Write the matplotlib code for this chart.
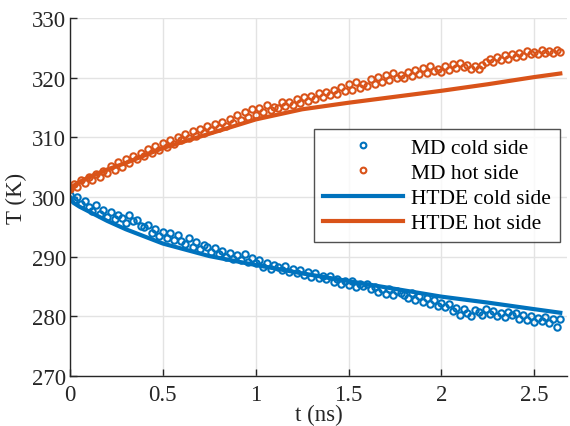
import numpy as np
import matplotlib
matplotlib.use("Agg")
import matplotlib.pyplot as plt

plt.rcParams['font.family'] = ['Liberation Serif', 'DejaVu Serif']
plt.rcParams['mathtext.fontset'] = 'stix'

# MD sample times (ns)
t_md = np.round(np.arange(0, 2.641, 0.02), 3)

md_cold = [
    300.3, 299.5, 300.0, 298.8, 299.4, 298.3, 297.7, 298.6, 297.2, 297.9,
    296.7, 297.5, 296.3, 297.0, 296.5, 295.6, 296.9, 295.9, 296.2, 295.1,
    294.9, 295.3, 293.9, 294.6, 293.5, 294.2, 293.2, 294.0, 292.8, 293.6,
    292.7, 292.2, 293.1, 291.6, 292.4, 291.3, 292.0, 291.7, 290.7, 291.4,
    290.4, 291.0, 289.9, 290.6, 289.6, 290.2, 289.5, 290.4, 289.1, 289.7,
    288.9, 289.4, 288.3, 288.9, 287.9, 288.6, 288.2, 287.7, 288.5, 287.5,
    288.0, 287.2, 287.7, 286.9, 287.5, 286.6, 287.3, 286.4, 286.8, 286.2,
    286.7, 285.8, 286.3, 285.5, 285.9, 285.3, 286.0, 284.9, 285.5, 285.0,
    285.4, 284.5, 284.9, 284.1, 284.6, 283.8, 284.5, 283.5, 284.2, 283.9,
    283.6, 283.1, 283.9, 282.7, 283.4, 282.4, 283.1, 282.0, 282.8, 281.8,
    282.3, 281.5, 282.0, 280.9, 281.4, 280.3, 281.2, 280.6, 280.0, 281.0,
    280.7, 280.2, 281.2, 280.4, 280.9, 280.0, 280.6, 279.9, 280.8, 280.2,
    280.5, 279.6, 280.2, 279.4, 280.0, 279.1, 279.8, 279.3, 279.9, 278.9,
    279.6, 278.2, 279.5,
]

md_hot = [
    301.3, 302.1, 301.7, 302.8, 302.4, 303.3, 302.9, 303.8, 303.4, 304.4,
    304.0, 305.2, 304.6, 305.9, 305.1, 306.3, 305.7, 306.9, 306.3, 307.4,
    306.9, 308.0, 307.4, 308.6, 307.8, 309.1, 308.4, 309.5, 308.9, 310.1,
    309.5, 310.5, 309.9, 311.0, 310.3, 311.4, 310.8, 311.9, 311.2, 312.2,
    311.5, 312.6, 311.9, 313.1, 312.4, 313.7, 312.9, 314.3, 313.4, 314.8,
    313.8, 315.0, 314.2, 315.4, 314.6, 315.1, 314.9, 315.9, 315.2, 316.0,
    315.4, 316.4, 315.8, 316.7, 316.1, 317.0, 316.4, 317.4, 316.8, 317.6,
    317.1, 318.0, 317.3, 318.4, 317.7, 318.9, 318.0, 319.2, 318.3, 319.0,
    318.6, 319.7, 318.9, 320.1, 319.2, 320.4, 319.6, 320.7, 319.9, 320.5,
    320.0, 321.0, 320.3, 321.3, 320.6, 321.6, 320.8, 321.9, 321.1, 321.5,
    321.0, 322.0, 321.3, 322.3, 321.6, 322.5, 321.8, 322.2, 321.4, 321.9,
    321.5, 322.2, 322.7, 323.1, 322.6, 323.5, 322.9, 323.8, 323.2, 324.0,
    323.4, 324.2, 323.6, 324.5, 323.9, 324.3, 324.0, 324.7, 324.1, 324.5,
    324.2, 324.6, 324.3,
]

# HTDE model curves
t_htde = [0, 0.02, 0.05, 0.1, 0.2, 0.3, 0.5, 0.75, 1.0, 1.25, 1.5, 1.75, 2.0, 2.25, 2.5, 2.64]
htde_cold = [300.0, 299.0, 298.4, 297.6, 296.0, 294.6, 292.2, 290.1, 288.6, 287.2, 285.9, 284.6, 283.3, 282.3, 281.2, 280.6]
htde_hot = [301.0, 301.9, 302.5, 303.3, 304.6, 305.7, 308.2, 310.6, 313.0, 314.7, 315.8, 316.8, 317.8, 318.9, 320.1, 320.7]

xticks = [0, 0.5, 1, 1.5, 2, 2.5]
xticklabels = ['0', '0.5', '1', '1.5', '2', '2.5']
yticks = [270, 280, 290, 300, 310, 320, 330]

blue = '#0072BD'
orange = '#D95319'
dark = '#262626'

fig = plt.figure(figsize=(5.70, 4.27), dpi=100)
ax = fig.add_axes([0.1228, 0.1171, 0.8719, 0.8384])

ms = 4.6
mew = 1.5
ax.plot(t_md, md_cold, 'o', ls='none', mfc='none', mec=blue, ms=ms, mew=mew, label='MD cold side')
ax.plot(t_md, md_hot, 'o', ls='none', mfc='none', mec=orange, ms=ms, mew=mew, label='MD hot side')
ax.plot(t_htde, htde_cold, '-', color=blue, lw=3.0, label='HTDE cold side')
ax.plot(t_htde, htde_hot, '-', color=orange, lw=3.0, label='HTDE hot side')

ax.set_xlim(0, 2.676)
ax.set_ylim(270, 330)
ax.set_xticks(xticks)
ax.set_xticklabels(xticklabels)
ax.set_yticks(yticks)

ax.grid(True, color='#e3e3e3', lw=1.0)
ax.set_axisbelow(True)
for s in ['top', 'right']:
    ax.spines[s].set_visible(False)
for s in ['left', 'bottom']:
    ax.spines[s].set_color(dark)
    ax.spines[s].set_linewidth(1.0)
ax.tick_params(direction='in', length=5, width=1.0, colors=dark, labelsize=16.5)
ax.tick_params(axis='x', pad=6)
ax.tick_params(axis='y', pad=3)

ax.set_xlabel('t (ns)', fontsize=16.5, color=dark, labelpad=-1)
ax.set_ylabel('T (K)', fontsize=16.5, color=dark, labelpad=3)

leg = ax.legend(loc='upper right', bbox_to_anchor=(0.982, 0.6956), bbox_transform=fig.transFigure,
                fontsize=15.5, frameon=True, fancybox=False, edgecolor=dark,
                handlelength=3.7, handletextpad=0.4, borderpad=0.4, labelspacing=0.24,
                borderaxespad=0.0, markerscale=0.9)
leg.get_frame().set_linewidth(1.0)

fig.savefig('out.png', dpi=100)
